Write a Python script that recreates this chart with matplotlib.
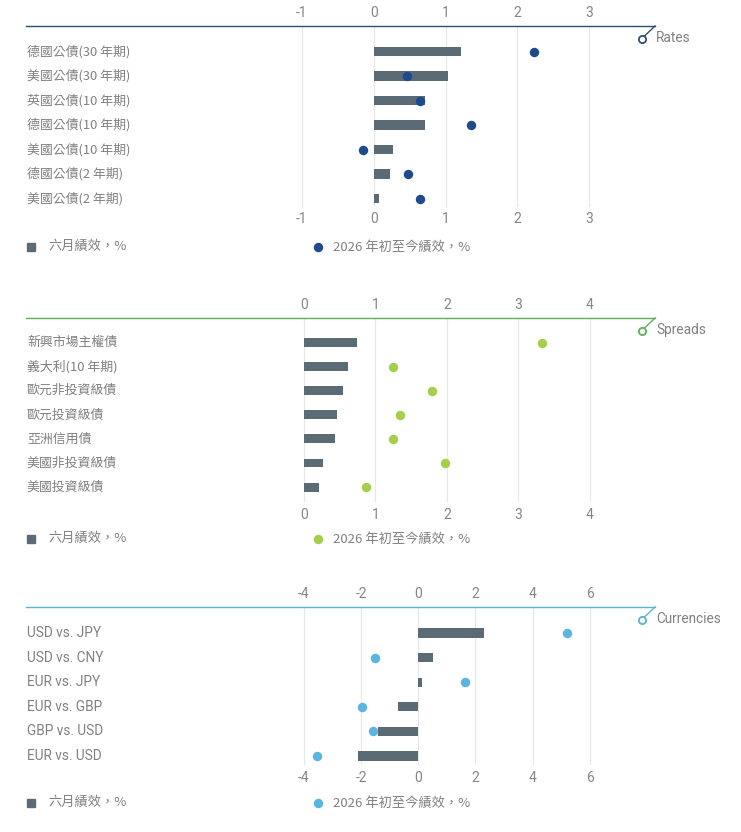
import matplotlib
matplotlib.use("Agg")
import matplotlib.pyplot as plt
from matplotlib.lines import Line2D

# ---------------- data ----------------
rates_labels = ["德國公債(30 年期)", "美國公債(30 年期)", "英國公債(10 年期)", "德國公債(10 年期)",
                "美國公債(10 年期)", "德國公債(2 年期)", "美國公債(2 年期)"]
rates_june = [1.21, 1.04, 0.72, 0.71, 0.27, 0.23, 0.07]
rates_ytd = [2.23, 0.46, 0.64, 1.35, -0.15, 0.48, 0.65]
rates_ticks = [-1, 0, 1, 2, 3]

spreads_labels = ["新興市場主權債", "義大利(10 年期)", "歐元非投資級債", "歐元投資級債",
                  "亞洲信用債", "美國非投資級債", "美國投資級債"]
spreads_june = [0.74, 0.61, 0.55, 0.46, 0.44, 0.27, 0.21]
spreads_ytd = [3.34, 1.24, 1.79, 1.35, 1.24, 1.97, 0.87]
spreads_ticks = [0, 1, 2, 3, 4]

fx_labels = ["USD vs. JPY", "USD vs. CNY", "EUR vs. JPY", "EUR vs. GBP", "GBP vs. USD", "EUR vs. USD"]
fx_june = [2.31, 0.50, 0.14, -0.72, -1.41, -2.11]
fx_ytd = [5.21, -1.52, 1.62, -1.97, -1.57, -3.54]
fx_ticks = [-4, -2, 0, 2, 4, 6]

legend_bar = "六月績效，%"
legend_dot = "2026 年初至今績效，%"

# ---------------- style ----------------
W, H = 741, 832
DPI = 100
BAR_C = "#5b6b76"
GRID_C = "#e6e8ea"
TEXT_C = "#808080"
CJK = ["Noto Sans CJK TC", "DejaVu Sans"]
LAT = ["Roboto", "DejaVu Sans"]

fig = plt.figure(figsize=(W / DPI, H / DPI), dpi=DPI)
fig.patch.set_facecolor("white")


def fx_(x):
    return x / W


def fy_(y):
    return 1 - y / H


panels = [
    dict(labels=rates_labels, june=rates_june, ytd=rates_ytd, ticks=rates_ticks,
         zero=373.75, unit=71.75, top=26, bottom=206.5, row0=51.5, rowstep=24.5,
         line_c="#2f4d6e", dot_c="#1f4a8c", name="Rates", leg_y=247, cjk=True),
    dict(labels=spreads_labels, june=spreads_june, ytd=spreads_ytd, ticks=spreads_ticks,
         zero=304.0, unit=71.4, top=318, bottom=502, row0=342.5, rowstep=24.1,
         line_c="#5fae5f", dot_c="#a6ce4d", name="Spreads", leg_y=539, cjk=True),
    dict(labels=fx_labels, june=fx_june, ytd=fx_ytd, ticks=fx_ticks,
         zero=418.3, unit=28.6, top=607, bottom=765, row0=633, rowstep=24.6,
         line_c="#5ab4d6", dot_c="#5cb4e0", name="Currencies", leg_y=803, cjk=False),
]

L_PX, R_PX = 26, 655

for p in panels:
    n = len(p["labels"])
    ax = fig.add_axes([fx_(L_PX), fy_(p["bottom"]), (R_PX - L_PX) / W, (p["bottom"] - p["top"]) / H])
    ax.set_xlim((L_PX - p["zero"]) / p["unit"], (R_PX - p["zero"]) / p["unit"])
    top_units = (p["row0"] - p["top"]) / p["rowstep"]
    last_row_px = p["row0"] + (n - 1) * p["rowstep"]
    bot_units = (p["bottom"] - last_row_px) / p["rowstep"]
    ax.set_ylim(n - 1 + bot_units, -top_units)

    for t in p["ticks"]:
        ax.axvline(t, color=GRID_C, lw=0.9, zorder=0)

    ys = list(range(n))
    ax.barh(ys, p["june"], height=0.37, color=BAR_C, zorder=2)
    ax.plot(p["ytd"], ys, "o", color=p["dot_c"], ms=6.8, mew=0, zorder=3, ls="none")

    for s in ["left", "right", "bottom"]:
        ax.spines[s].set_visible(False)
    ax.spines["top"].set_color(p["line_c"])
    ax.spines["top"].set_linewidth(1.0)
    ax.set_yticks([])
    ax.set_xticks(p["ticks"])
    ax.set_xticklabels([str(t) for t in p["ticks"]])
    ax.tick_params(axis="x", length=0, pad=4, labeltop=True, labelbottom=True,
                   labelsize=10, labelcolor="#858585")
    for lab in ax.get_xticklabels():
        lab.set_fontfamily(LAT)
    ax.set_facecolor("none")

    for i, lab in enumerate(p["labels"]):
        ax.text(0.0015, i, lab, transform=ax.get_yaxis_transform(),
                ha="left", va="center", fontsize=9.3 if p["cjk"] else 9.8, color=TEXT_C,
                family=CJK if p["cjk"] else LAT)

    # decoration at the end of the top line
    ly = p["top"]
    cx, cy = 641.5, ly + 13
    fig.add_artist(Line2D([fx_(R_PX), fx_(cx + 2.2)], [fy_(ly), fy_(cy - 2.2)],
                          color=p["line_c"], lw=1.0))
    fig.add_artist(Line2D([fx_(cx)], [fy_(cy)], marker="o", ms=5.2, mfc="white",
                          mec=p["line_c"], mew=1.3, ls="none"))
    fig.text(fx_(656), fy_(cy - 1), p["name"], ha="left", va="center", fontsize=9.8,
             color=TEXT_C, family=LAT)

    # legend
    lyy = p["leg_y"]
    fig.add_artist(Line2D([fx_(30.5)], [fy_(lyy)], marker="s", ms=6.2, color=BAR_C, ls="none"))
    fig.text(fx_(48), fy_(lyy - 1), legend_bar, ha="left", va="center", fontsize=9.5,
             color=TEXT_C, family=CJK)
    fig.add_artist(Line2D([fx_(318)], [fy_(lyy)], marker="o", ms=6.8, mew=0, color=p["dot_c"], ls="none"))
    fig.text(fx_(333), fy_(lyy), legend_dot, ha="left", va="center", fontsize=9.5,
             color=TEXT_C, family=CJK)

fig.savefig("out.png", dpi=DPI, facecolor="white")
